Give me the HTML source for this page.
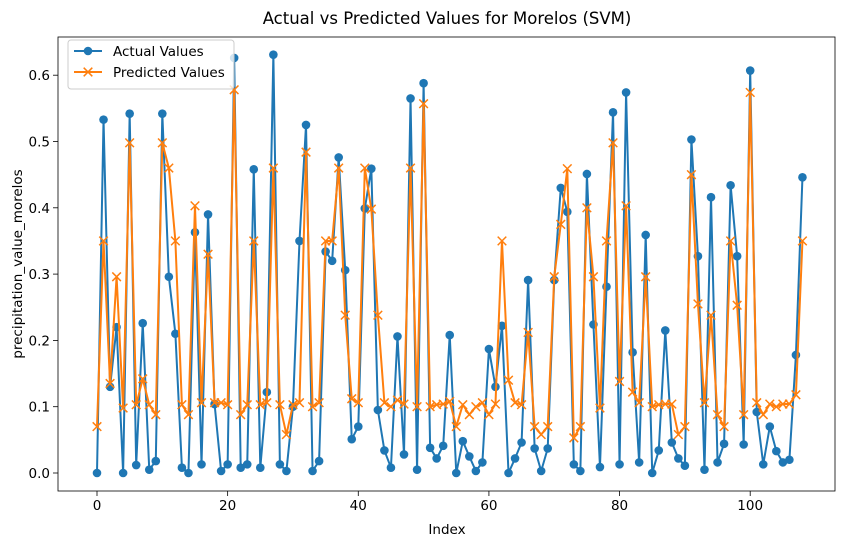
<!DOCTYPE html>
<html><head><meta charset="utf-8"><style>
body{margin:0;background:#fff;font-family:"Liberation Sans","DejaVu Sans",sans-serif}
svg text{font-family:"DejaVu Sans","Liberation Sans",sans-serif}
</style></head><body>
<svg id="c" width="846" height="547" xmlns="http://www.w3.org/2000/svg"></svg>
<script>
const indices=[...Array(109).keys()];
const actualValues=[0.0,0.533,0.13,0.22,0.0,0.542,0.012,0.226,0.005,0.018,0.542,0.296,0.21,0.008,0.0,0.363,0.013,0.39,0.104,0.003,0.013,0.626,0.008,0.013,0.458,0.008,0.122,0.631,0.013,0.003,0.1,0.35,0.525,0.003,0.018,0.334,0.32,0.476,0.306,0.051,0.07,0.399,0.459,0.095,0.034,0.008,0.206,0.028,0.565,0.005,0.588,0.038,0.022,0.041,0.208,0.0,0.048,0.025,0.003,0.016,0.187,0.13,0.222,0.0,0.022,0.046,0.291,0.037,0.003,0.037,0.291,0.43,0.394,0.013,0.003,0.451,0.224,0.009,0.281,0.544,0.013,0.574,0.182,0.016,0.359,0.0,0.034,0.215,0.046,0.022,0.011,0.503,0.327,0.005,0.416,0.016,0.044,0.434,0.327,0.043,0.607,0.092,0.013,0.07,0.033,0.016,0.02,0.178,0.446];
const predictedValues=[0.07,0.35,0.135,0.296,0.098,0.498,0.103,0.142,0.103,0.088,0.498,0.46,0.35,0.103,0.088,0.403,0.106,0.33,0.106,0.106,0.103,0.578,0.088,0.103,0.35,0.103,0.106,0.46,0.103,0.058,0.103,0.106,0.484,0.1,0.106,0.35,0.35,0.46,0.238,0.112,0.106,0.46,0.398,0.238,0.106,0.1,0.11,0.104,0.46,0.1,0.557,0.1,0.103,0.104,0.108,0.07,0.103,0.088,0.1,0.106,0.088,0.104,0.35,0.14,0.106,0.103,0.212,0.07,0.058,0.07,0.296,0.375,0.459,0.053,0.07,0.4,0.296,0.098,0.35,0.498,0.138,0.403,0.122,0.106,0.296,0.1,0.103,0.104,0.104,0.058,0.07,0.45,0.255,0.106,0.238,0.088,0.07,0.35,0.253,0.088,0.574,0.106,0.088,0.104,0.1,0.104,0.104,0.118,0.35];
const xTicks=[0,20,40,60,80,100];
const yTicks=[0,0.1,0.2,0.3,0.4,0.5,0.6];
const yTickLabels=["0.0","0.1","0.2","0.3","0.4","0.5","0.6"];
const NS="http://www.w3.org/2000/svg";
const svg=document.getElementById('c');
const L=58,T=37,R=835,B=491;
const xs=v=>97+v*6.532;
const ys=v=>473-v*663;
function mk(t,a,p){const e=document.createElementNS(NS,t);for(const k in a)e.setAttribute(k,a[k]);(p||svg).appendChild(e);return e;}
xTicks.forEach(v=>{
 const g=mk('g',{});
 
 
 mk('line',{x1:xs(v),x2:xs(v),y1:B,y2:B+5,stroke:'#000','stroke-width':0.8},g);
 const t=mk('text',{x:xs(v),y:B+19,'font-size':13.5,'text-anchor':'middle'},g);t.textContent=v;
});
yTicks.forEach((v,i)=>{
 const g=mk('g',{});
 
 
 mk('line',{x1:L-5,x2:L,y1:ys(v),y2:ys(v),stroke:'#000','stroke-width':0.8},g);
 const t=mk('text',{x:L-8,y:ys(v)+5,'font-size':13.5,'text-anchor':'end'},g);t.textContent=yTickLabels[i];
});
function series(vals,color,name,marker){
 const g=mk('g',{});
 
 
 mk('polyline',{points:vals.map((v,i)=>xs(indices[i])+','+ys(v)).join(' '),fill:'none',stroke:color,'stroke-width':2,'stroke-linejoin':'round'},g);
 vals.forEach((v,i)=>{
  const x=xs(indices[i]),y=ys(v);
  if(marker==='o'){const c=mk('circle',{cx:x,cy:y,r:4.3,fill:color},g);}
  else{const p=mk('path',{d:`M${x-4.3},${y-4.3}L${x+4.3},${y+4.3}M${x-4.3},${y+4.3}L${x+4.3},${y-4.3}`,stroke:color,'stroke-width':1.5},g);}
 });
}
series(actualValues,'#1f77b4','actual-series','o');
series(predictedValues,'#ff7f0e','predicted-series','x');
const fr=mk('rect',{x:L,y:T,width:R-L,height:B-T,fill:'none',stroke:'#000','stroke-width':0.8});

const lg=mk('g',{});


mk('rect',{x:68,y:40,width:166,height:49,rx:3,fill:'#fff','fill-opacity':0.8,stroke:'#ccc'},lg);
mk('line',{x1:74,x2:102,y1:51,y2:51,stroke:'#1f77b4','stroke-width':2},lg);
mk('circle',{cx:88,cy:51,r:4.3,fill:'#1f77b4'},lg);
let t=mk('text',{x:113,y:56,'font-size':13.5},lg);t.textContent='Actual Values';
mk('line',{x1:74,x2:102,y1:72,y2:72,stroke:'#ff7f0e','stroke-width':2},lg);
mk('path',{d:'M83.7,67.7L92.3,76.3M83.7,76.3L92.3,67.7',stroke:'#ff7f0e','stroke-width':1.5},lg);
t=mk('text',{x:113,y:77,'font-size':13.5},lg);t.textContent='Predicted Values';
t=mk('text',{x:447,y:24,'font-size':16.5,'text-anchor':'middle'});t.textContent='Actual vs Predicted Values for Morelos (SVM)';

t=mk('text',{x:447,y:534,'font-size':13.5,'text-anchor':'middle'});t.textContent='Index';

t=mk('text',{x:22,y:264,'font-size':13.5,'text-anchor':'middle',transform:'rotate(-90 22 264)'});t.textContent='precipitation_value_morelos';

</script>
</body></html>
